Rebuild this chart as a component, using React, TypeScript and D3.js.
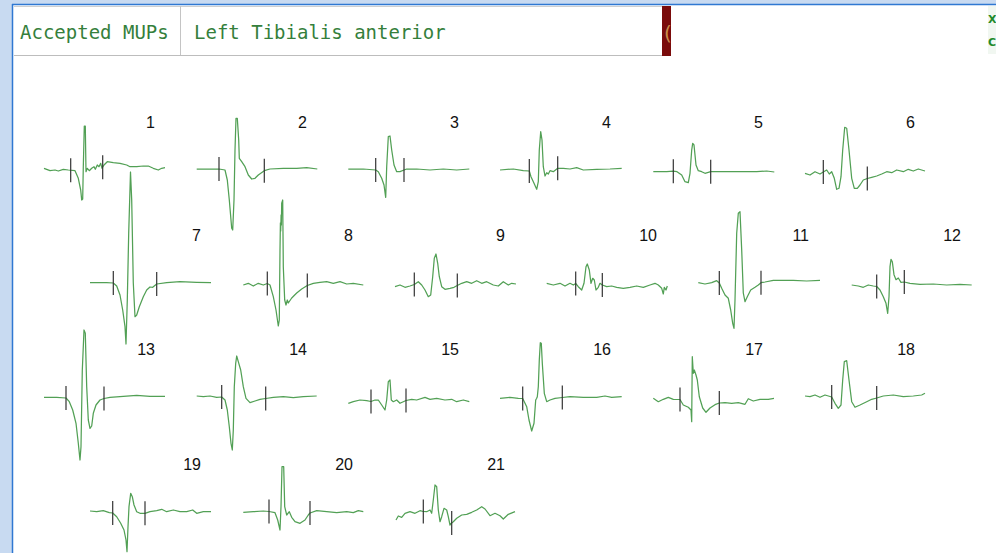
import React from "react";
import * as d3 from "d3";

// ---- Data: each MUP is a list of [time (sample), amplitude] pairs ----
const mup1: [number, number][] = [[0,1.7],[6,-0.7],[11,0],[14.3,-1],[19.3,0.7],[24.3,0],[31,-0.7],[34.3,-8.3],[36.7,-20],[37.7,-30],[38.7,-29],[39.3,3.3],[40.3,44],[41.3,44],[42,-1.7],[43.3,1.7],[45.3,-0.7],[47.7,1.7],[50,3.3],[51.3,0.7],[53.3,5],[55,3.3],[56.7,6.7],[58,1.7],[60,5],[63.3,8.3],[69.3,7.3],[76,6.7],[82.7,5],[86,3.3],[92.7,3.3],[99.3,4],[104.3,4],[109.3,1.7],[114.3,0],[117.7,1.7],[121,2.3]];
const mup2: [number, number][] = [[0.7,1],[14,1],[23,1],[29,0],[31.3,-10],[33.3,-30],[35.7,-58.3],[36.7,-60],[38,-30],[39,20],[40,51.7],[41.3,51.7],[42.7,30],[43.3,11.7],[45.7,8.3],[49,3.3],[52.3,-5],[55.7,-9],[59,-8.3],[62.3,-5],[68.3,-0.7],[74,1],[87.3,1.7],[100.7,1.7],[110.7,2.3],[121.3,1]];
const mup3: [number, number][] = [[0.3,1],[15.3,1],[27.7,0],[30.3,-1.7],[33.7,-8.3],[36,-15],[37.7,-27.3],[38.7,3.3],[40.3,33.3],[42,34],[43.7,20],[46,5],[48.7,-1.7],[52,-1.7],[56,0],[58.7,1],[68.7,1],[82,0],[95.3,1],[108.7,0],[121.3,1]];
const mup4: [number, number][] = [[0,0],[13.3,1],[23.3,-0.7],[29.3,-1],[31,-6.7],[34,-13.3],[36.7,-19.3],[38.3,-11.7],[39.3,20],[40.7,38.3],[42,30],[43.3,3.3],[45,-6],[46.7,-2.7],[48.3,-4],[50,-0.7],[53.3,-1.7],[57.7,1.7],[63.3,1.7],[70,1],[76.7,2.3],[83.3,0],[96.7,0.7],[110,1],[121.7,1.7]];
const mup5: [number, number][] = [[1.3,-1.7],[14.7,-1.7],[21.3,-1.2],[25,-1.7],[29.7,-5],[33,-11.7],[36.3,-12.7],[38,-3.3],[39.7,20],[40.7,26.7],[42,25],[44,5],[46.3,-0.7],[49.7,-1.7],[53,-3.3],[58.7,-1.7],[71.3,-1.7],[88,-1.7],[104.7,-1.7],[114.7,-1],[122.3,-2]];
const mup6: [number, number][] = [[1,-3.3],[6,-5],[11,-1.7],[16,-4],[19.3,-2],[22.7,0],[25.3,-4],[27.7,-1.7],[30.3,-8.3],[32.7,-19.3],[35,-18.3],[37,-6.7],[38.7,20],[40.7,42.7],[42.7,41.7],[45,20],[47.7,-8.3],[50.3,-18.3],[53.3,-18.3],[56,-15],[59.3,-10],[63.3,-8.5],[67.7,-7.3],[72.7,-6],[77.7,-4],[82.7,-1.7],[87.7,-2.7],[92.7,0],[99.3,-1.7],[104.3,0.7],[109.3,-1],[114.3,1],[121,-1]];
const mup7: [number, number][] = [[0,0.3],[16.7,0.3],[23.3,0],[26.7,-3],[30,-12],[32.7,-27],[35,-43.7],[36,-61],[37.3,-17],[38.7,49.7],[40.5,111],[41.7,83],[43.3,0],[45,-33.7],[46.7,-32],[49.3,-23.7],[53.3,-13.7],[56.7,-7],[60,-4],[62.7,-4.3],[66.7,-1],[76.7,0.3],[90,1.3],[106.7,0.7],[121,0.3]];
const mup8: [number, number][] = [[1.3,-2],[6.3,-0.3],[11.3,-3],[16.3,-0.3],[21.3,-2],[25.3,-0.5],[28,-2],[31.3,-13.7],[34,-27],[36.3,-43],[37.3,-37],[38,33],[38.4,60],[38.7,52],[39.1,68],[39.4,58],[39.7,79.7],[40.7,83],[41.3,16.3],[42.7,-17],[44,-22],[45.3,-17],[46.3,-20],[49.7,-15],[54.7,-10],[59.7,-6],[65.3,-2.5],[71.3,-0.3],[78,0.7],[84.7,1.3],[91.3,-0.3],[98,1.3],[104.7,-1],[111.3,-0.3],[121.3,-2]];
const mup9: [number, number][] = [[1,-3.7],[6,-2],[11,-4.3],[16,-3],[20.3,-1.5],[24.3,1.3],[27.7,-2],[31,-7],[34.3,-13.7],[36.7,-12],[38.7,6.3],[40.3,24.7],[42,29],[43.7,19.7],[45.3,6.3],[47.7,-3.7],[51,-6.3],[56,-5.3],[60,-4.3],[63.3,-2.5],[67.7,-0.3],[72.7,1.3],[77.7,-0.3],[82.7,2.3],[87.7,-0.3],[92.7,1.3],[99.3,-2],[104.3,-3],[109.3,1.3],[114.3,-2],[117.7,-0.3],[122,-1]];
const mup10: [number, number][] = [[0.7,-0.3],[7.3,-2],[14,-0.3],[19,-3],[24,-0.3],[27.3,-2],[29.7,-0.5],[32.3,-3.7],[35.7,-7],[38,-0.3],[40,16.3],[41.3,19],[43.3,13],[45,-0.3],[46.7,4.7],[48.3,3],[50,-7],[52.3,-4.3],[54,-0.3],[56.3,-2],[60.7,-3.7],[65.7,-3],[70.7,-4.3],[77.3,-5.3],[84,-4.3],[90.7,-3],[97.3,-4.3],[104,-2],[109,-0.3],[112.3,-2],[115.7,-5.3],[117.3,-11],[118.3,-4.3],[120,-7],[121.3,-3]];
const mup11: [number, number][] = [[0.3,0.3],[7,-1],[13.7,0.3],[18.7,2.3],[21.3,0],[23.7,-5.3],[27,-12],[30.3,-15.3],[32.7,-27],[34.7,-40.3],[36,-45.3],[37,-17],[38.7,49.7],[40.3,69.7],[42,71.3],[43.7,33],[45.3,-10],[47,-18.7],[49.3,-13.7],[52.7,-7],[57,-4.3],[60.3,-2],[63,0.3],[67,1],[75.3,2.7],[85.3,2.7],[95.3,2.7],[108.7,2],[122,2.7]];
const mup12: [number, number][] = [[1.7,-2],[8.3,-3],[13.3,-4.3],[18.3,-2],[23.3,-3],[26.7,-3.5],[30,-7],[33.3,-13.7],[36,-20.3],[37.7,-30.3],[39,-13.7],[40,16.3],[41,23.7],[42.3,21.3],[44,8.3],[46,3.3],[48.3,5],[51,0.7],[54.3,1],[60,-0.3],[70,-1.3],[83.3,-1],[96.7,-2],[110,-1.3],[121.7,-2]];
const mup13: [number, number][] = [[0,-0.3],[12.7,-0.3],[22,-1],[25.3,-4.7],[28.7,-13],[32,-26.3],[34.3,-46.3],[36,-63],[37,-49.7],[38.3,26.7],[40,67],[41.3,63.7],[42.7,10.3],[44.3,-23],[46,-31.3],[47.7,-29],[49.3,-16.3],[52,-8],[56,-3],[60,-1.5],[66,-0.3],[79.3,0.7],[92.7,1.7],[106,0.7],[121,0.7]];
const mup14: [number, number][] = [[0.7,1],[7.3,0.3],[14,1],[20.7,-0.3],[25.7,0],[29,-3],[31.3,-13],[33.3,-29.7],[35,-46.3],[36.3,-53],[37.3,-33],[38.3,10.3],[39.7,33.7],[40.7,41],[42.3,35.3],[44.7,27],[47.3,10.3],[50,-1.3],[54,-5.7],[59,-4],[64,-2.3],[69.7,-1.5],[77.3,-0.3],[87.3,0.3],[97.3,-0.7],[107.3,0.3],[120.7,1]];
const mup15: [number, number][] = [[0.3,-6.3],[5.3,-4.7],[12,-3],[18.7,-3.7],[23,-4.5],[27,-3],[30.3,-3],[33.7,-8],[37,-13],[38.7,-3],[40.3,15.3],[42,17],[43.3,-3],[45.3,-4.7],[48.7,-3],[52,-6.3],[55.3,-4.7],[58,-3.5],[63.7,-2.3],[68.7,-3],[77,-0.3],[82,-2.3],[88.7,-1.3],[97,-3],[103.7,-2.3],[108.7,-4.7],[115.3,-3],[121.3,-4.7]];
const mup16: [number, number][] = [[0,-1.3],[10,-0.3],[18.3,-1.3],[22.7,-1.5],[26.7,-9.7],[29,-23],[31.7,-34],[34,-26.3],[35.7,-3],[36.7,-1.3],[37.3,0.3],[38.3,10.3],[39.3,37],[40.3,54.3],[41.3,53.7],[42.3,33.7],[44.3,3.7],[46.7,-4.7],[50,-3],[55,-1.3],[62.3,-0.5],[70,0.3],[83.3,-0.3],[96.7,-0.3],[105,1],[111.7,-0.3],[121.7,0.3]];
const mup17: [number, number][] = [[1.3,-1.3],[6.3,-4.7],[11.3,-2.3],[16.3,-0.3],[21.3,-2.3],[28,-2.5],[31.3,-8],[36.3,-10.3],[39,-13],[39.7,-24.7],[40,10.3],[40.3,40.3],[41.3,23.7],[42.3,27],[44,22],[45.3,17],[47.3,0.3],[50.7,-11],[54,-15.3],[58,-11],[63,-7.7],[67.3,-6],[73,-5.7],[79.7,-6.3],[86.3,-5.7],[93,-7.3],[96.3,-1.7],[101.3,-4],[108,-2.3],[116.3,-2.3],[122,-1.3]];
const mup18: [number, number][] = [[1,1],[6,0.3],[11,2],[16,-0.3],[21,2],[27.7,0],[31,-6.3],[34.3,-11.3],[37,-8],[38.7,17],[40.3,35.3],[42.7,36.3],[45,17],[47.7,-4.7],[51,-10.3],[56,-8],[62.7,-4.7],[67.7,-2.3],[72.7,-1],[79.3,1],[89.3,2],[99.3,0.3],[109.3,1],[117.7,2],[121,3.7]];
const mup19: [number, number][] = [[0,1],[6.7,0.3],[13.3,1.3],[19.3,-0.7],[22.7,-1],[26.7,-4.7],[30.7,-11.3],[34,-18],[36,-28],[37,-39.7],[38,-14.7],[39,5.3],[40.7,18.7],[42.3,15.3],[44,7],[46.7,0.3],[50,-1.3],[55,-1.3],[60,0.3],[66.7,1.3],[71.7,2.7],[76.7,0.3],[83.3,2],[90,0.3],[96.7,0.3],[102.7,2],[106.7,-1.3],[113.3,0.3],[121,0.3]];
const mup20: [number, number][] = [[1.3,-0.3],[11.3,0.3],[21.3,1],[27,0.5],[33,-0.7],[35.7,-8],[38,-18],[39,5.3],[40,45.3],[41.7,45.3],[42.7,5.3],[44.7,-3],[47.3,0.3],[49.7,-5.3],[53,-9.7],[58,-11.3],[63,-8],[66.3,-3],[68,-1],[74.7,1.3],[84.7,0.3],[94.7,-0.7],[104.7,0.3],[111.3,-0.7],[116.3,1.3],[121.3,0.3]];
const mup21: [number, number][] = [[2,-8],[4.3,-4],[7.7,-5.3],[11,-1.3],[16,0.3],[21,-1.3],[26,1.3],[29.3,0.5],[32.7,0.3],[36,2],[37.7,-1.3],[39.3,12],[41,27],[42.7,25.3],[44.3,2],[46,-9.7],[47.7,-4.7],[50,3.7],[52.7,2],[54.3,-4.7],[56,-13],[57.7,-11],[59.3,-9.7],[62.7,-6.3],[67.7,-3],[72.7,-2.3],[77.7,-0.3],[82.7,2],[87.7,5.3],[91,3],[96,-3.7],[101,-1.3],[106,-3.7],[109.3,-7],[114.3,-2.3],[121,0.3]];

const mups = [mup1, mup2, mup3, mup4, mup5, mup6, mup7, mup8, mup9, mup10, mup11, mup12, mup13, mup14, mup15, mup16, mup17, mup18, mup19, mup20, mup21];

// Duration markers (start, end) in samples
const markerStart = [26.7, 23, 27.7, 29.3, 21.3, 19.3, 23.3, 25.3, 20.3, 29.7, 21.3, 26.7, 22, 25.7, 23, 22.7, 28, 27.7, 22.7, 27, 29.3];
const markerEnd = [58.7, 68.3, 56, 57.7, 58.7, 63.3, 66.7, 65.3, 63.3, 56.3, 63, 54.3, 60, 69.7, 58, 62.3, 67.3, 72.7, 55, 68, 57.7];

const mupLabels = ["1","2","3","4","5","6","7","8","9","10","11","12","13","14","15","16","17","18","19","20","21"];

const headerTitle = "Accepted MUPs";
const muscleName = "Left Tibialis anterior";
const sideLabels = ["X", "C"];

// ---- Layout ----
const W = 996;
const H = 553;
const rowBase = [170, 283, 397, 512];
const rowX0 = [44, 90, 44, 90];
const colStep = 152;
const perRow = 6;
const span = 121;

function valueAt(pts: [number, number][], t: number): number {
  for (let i = 1; i < pts.length; i++) {
    if (pts[i][0] >= t) {
      const [t0, v0] = pts[i - 1];
      const [t1, v1] = pts[i];
      const f = t1 === t0 ? 0 : (t - t0) / (t1 - t0);
      return v0 + f * (v1 - v0);
    }
  }
  return pts[pts.length - 1][1];
}

export default function App() {
  const green = "#52a055";
  return (
    <div style={{ position: "fixed", left: 0, top: 0, width: W, height: H }}>
      <svg width={W} height={H} style={{ display: "block" }}>
        {/* window frame */}
        <rect x={0} y={0} width={W} height={H} fill="#c8daf1" />
        <rect x={13} y={5} width={W - 13} height={H - 5} fill="#ffffff" />
        <line x1={12.5} y1={4} x2={12.5} y2={H} stroke="#2f78d2" strokeWidth={1.5} />
        <line x1={12} y1={4.5} x2={W} y2={4.5} stroke="#2f78d2" strokeWidth={1.5} />

        {/* header */}
        <line x1={14} y1={6.5} x2={662} y2={6.5} stroke="#cfcfcf" />
        <line x1={14} y1={55.5} x2={662} y2={55.5} stroke="#bdbdbd" />
        <line x1={180.5} y1={6} x2={180.5} y2={55} stroke="#c4c4c4" />
        <text x={20} y={39} fontFamily="'DejaVu Sans Mono', monospace" fontSize={19} fill="#357f3c">{headerTitle}</text>
        <text x={194} y={39} fontFamily="'DejaVu Sans Mono', monospace" fontSize={19} fill="#357f3c">{muscleName}</text>
        <rect x={662} y={6} width={9} height={50} fill="#7a0b0b" />
        <text x={664} y={40} fontFamily="'DejaVu Sans', sans-serif" fontSize={20} fill="#c98a4a">(</text>
        <rect x={988} y={6} width={8} height={48} fill="#f1f7f1" />
        <text x={988} y={23} fontFamily="'DejaVu Sans', sans-serif" fontWeight="bold" fontSize={11} fill="#1f8a2a">{sideLabels[0]}</text>
        <text x={988} y={46} fontFamily="'DejaVu Sans', sans-serif" fontWeight="bold" fontSize={11} fill="#1f8a2a">{sideLabels[1]}</text>

        {/* MUP traces */}
        {mups.map((pts, i) => {
          const row = Math.floor(i / perRow);
          const col = i % perRow;
          const x0 = rowX0[row] + col * colStep;
          const base = rowBase[row];
          const xs = d3.scaleLinear().domain([0, span]).range([x0, x0 + span]);
          const ys = d3.scaleLinear().domain([-100, 100]).range([base + 100, base - 100]);
          const line = d3.line<[number, number]>().x((d) => xs(d[0])).y((d) => ys(d[1]));
          const marks = [markerStart[i], markerEnd[i]];
          return (
            <g key={i}>
              <path d={line(pts) || ""} fill="none" stroke={green} strokeWidth={1.25} strokeLinejoin="round" />
              {marks.map((t, j) => {
                const v = valueAt(pts, t);
                return (
                  <line key={j} x1={xs(t)} x2={xs(t)} y1={ys(v) - 12} y2={ys(v) + 12} stroke="#333" strokeWidth={1.2} />
                );
              })}
              <text x={x0 + 111} y={base - 42} textAnchor="end" fontFamily="'Liberation Sans', Arial, sans-serif" fontSize={16} fill="#111">{mupLabels[i]}</text>
            </g>
          );
        })}
      </svg>
    </div>
  );
}
